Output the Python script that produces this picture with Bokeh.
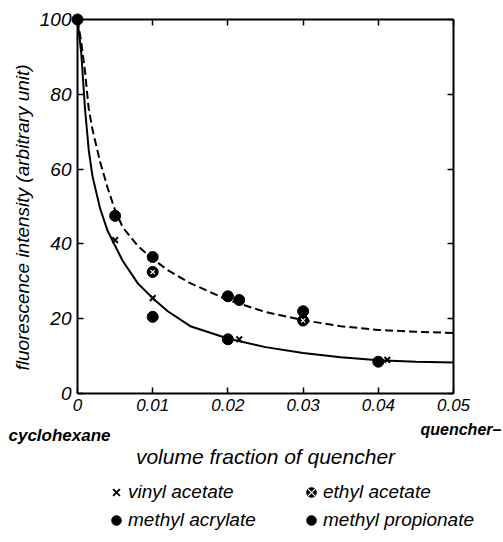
import math
from bokeh.plotting import figure
from bokeh.models import (LinearAxis, FixedTicker, Label, Legend, LegendItem,
                          Range1d)
from bokeh.embed import file_html
from bokeh.resources import INLINE

# ---- data ----
start_x = [0.0]
start_y = [100.0]

vinyl_x = [0.005, 0.010, 0.0215, 0.0412]
vinyl_y = [41.0, 25.5, 14.5, 9.0]

acrylate_x = [0.010, 0.020, 0.040]
acrylate_y = [20.5, 14.5, 8.5]

ethyl_x = [0.010, 0.030]
ethyl_y = [32.5, 19.5]

propionate_x = [0.005, 0.010, 0.020, 0.0215, 0.030]
propionate_y = [47.5, 36.5, 26.0, 25.0, 22.0]

curve_x = [0, 0.0005, 0.001, 0.0015, 0.002, 0.003, 0.004, 0.005, 0.006, 0.008,
           0.010, 0.012, 0.015, 0.020, 0.025, 0.030, 0.035, 0.040, 0.045, 0.050]
solid_y = [100, 91, 76, 65, 58, 49.5, 43.5, 39.5, 35.5, 29.5,
           25.5, 22, 18, 14.7, 12.4, 10.8, 9.7, 8.9, 8.5, 8.3]
dashed_y = [100, 94, 86, 76, 70.5, 62, 55, 49, 44.5, 39.5,
            36, 33, 29.5, 25, 21.8, 19.6, 18, 17, 16.5, 16.2]

x_ticks = [0, 0.01, 0.02, 0.03, 0.04, 0.05]
x_tick_labels = ["0", "0.01", "0.02", "0.03", "0.04", "0.05"]
y_ticks = [0, 20, 40, 60, 80, 100]

FONT = "Liberation Sans"

# layout: the frame fills the canvas; axes are pinned at the data box edges
W, H = 503, 542
FX0, FX1, FY0, FY1 = 77, 453, 19, 393          # pixel box of the axes
XMIN, XMAX, YMIN, YMAX = 0.0, 0.05, 0.0, 100.0
sx = (XMAX - XMIN) / (FX1 - FX0)
sy = (YMAX - YMIN) / (FY1 - FY0)
x_range = Range1d(XMIN - FX0 * sx, XMAX + (W - FX1) * sx)
y_range = Range1d(YMIN - (H - FY1) * sy, YMAX + FY0 * sy)

p = figure(width=W, height=H, output_backend="svg", toolbar_location=None,
           x_range=x_range, y_range=y_range, x_axis_location=None,
           y_axis_location=None, min_border=0)
p.grid.visible = False
p.outline_line_color = None
p.background_fill_color = "white"
p.border_fill_color = "white"

# curves
p.line(curve_x, solid_y, line_color="black", line_width=2)
p.line(curve_x, dashed_y, line_color="black", line_width=2, line_dash="8 4")

# points
p.scatter(start_x, start_y, marker="circle", size=11, color="black")
r_vinyl = p.scatter(vinyl_x, vinyl_y, marker="x", size=8, line_color="black", line_width=2)
r_acr = p.scatter(acrylate_x, acrylate_y, marker="circle", size=11, color="black")
r_eth1 = p.scatter(ethyl_x, ethyl_y, marker="circle", size=11, color="black")
r_eth2 = p.scatter(ethyl_x, ethyl_y, marker="x", size=6, line_color="white", line_width=1.2)
r_prop = p.scatter(propionate_x, propionate_y, marker="circle", size=11, color="black")

def make_axis(ticks, loc, bounds, labels=None):
    ax = LinearAxis(ticker=FixedTicker(ticks=ticks), fixed_location=loc, bounds=bounds)
    ax.axis_line_width = 2
    ax.axis_line_color = "black"
    ax.major_tick_in = 6
    ax.major_tick_out = 0
    ax.major_tick_line_width = 1.5
    ax.minor_tick_line_color = None
    ax.major_label_text_font = FONT
    ax.major_label_text_font_style = "italic"
    ax.major_label_text_color = "black"
    ax.axis_label_text_font = FONT
    ax.axis_label_text_font_style = "italic"
    ax.axis_label_text_font_size = "21px"
    ax.axis_label_text_color = "black"
    if labels is not None:
        ax.major_label_overrides = labels
    return ax

xa = make_axis(x_ticks, YMIN, (XMIN, XMAX), dict(zip(x_ticks, x_tick_labels)))
xa.axis_label = "volume fraction of quencher"
xa.major_label_text_font_size = "17px"
xa.major_label_standoff = 5
xa.axis_label_standoff = 31
p.add_layout(xa, "below")

ya = make_axis(y_ticks, XMIN, (YMIN, YMAX))
ya.major_label_text_font_size = "19px"
ya.major_label_standoff = 6
p.add_layout(ya, "left")

top = make_axis(x_ticks, YMAX, (XMIN, XMAX), {t: "" for t in x_ticks})
right = make_axis(y_ticks, XMAX, (YMIN, YMAX), {t: "" for t in y_ticks})
p.add_layout(top, "above")
p.add_layout(right, "right")

# y-axis title, placed as in the original
p.add_layout(Label(x=XMIN, y=(YMIN + YMAX) / 2, text="fluorescence intensity (arbitrary unit)",
                   text_font=FONT, text_font_style="italic", text_font_size="19px",
                   text_color="black", text_align="center", text_baseline="middle",
                   angle=math.pi / 2, x_offset=-55, y_offset=-11))

# end labels under the axis
p.add_layout(Label(x=XMIN, y=YMIN, text="cyclohexane", text_font=FONT,
                   text_font_style="bold italic", text_font_size="17px",
                   text_color="black", text_align="left", x_offset=-69,
                   y_offset=-42, text_baseline="middle"))
p.add_layout(Label(x=XMAX, y=YMIN, text="quencher\u2013", text_font=FONT,
                   text_font_style="bold italic", text_font_size="16px",
                   text_color="black", text_align="left", x_offset=-33,
                   y_offset=-36, text_baseline="middle"))

legend = Legend(items=[
    LegendItem(label="vinyl acetate", renderers=[r_vinyl]),
    LegendItem(label="methyl acrylate", renderers=[r_acr]),
    LegendItem(label="ethyl acetate", renderers=[r_eth1, r_eth2]),
    LegendItem(label="methyl propionate", renderers=[r_prop]),
], location=(104, 10), ncols=2, orientation="vertical")
legend.border_line_color = None
legend.background_fill_alpha = 0
legend.label_text_font = FONT
legend.label_text_font_style = "italic"
legend.label_text_font_size = "19px"
legend.label_text_color = "black"
legend.glyph_width = 24
legend.glyph_height = 24
legend.label_height = 24
legend.label_width = 167
legend.label_standoff = 0
legend.spacing = 4
legend.padding = 0
legend.margin = 0
p.add_layout(legend, "center")

open("out.html", "w").write(file_html(p, INLINE))
